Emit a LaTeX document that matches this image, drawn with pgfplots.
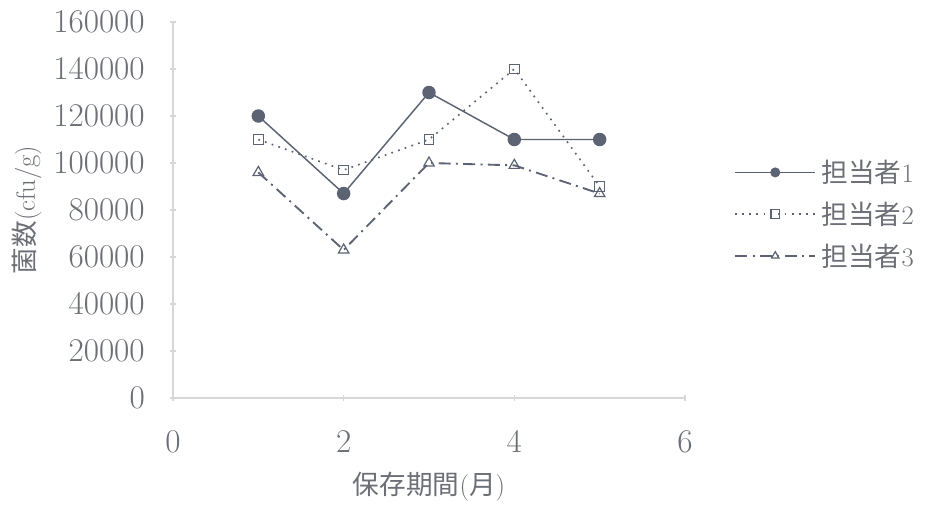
\documentclass[border=0pt]{standalone}
\usepackage{fontspec}
\usepackage{pgfplots}
\pgfplotsset{compat=1.18}
\newfontfamily\cjk{Noto Sans CJK JP}
\definecolor{ln}{RGB}{92,99,114}
\definecolor{txt}{RGB}{108,111,118}
\definecolor{axc}{RGB}{215,215,218}
\begin{document}
\begin{tikzpicture}
\begin{axis}[
  name=ax,
  scale only axis,
  width=384pt, height=282pt,
  xmin=0, xmax=6, ymin=0, ymax=160000,
  xtick={0,2,4,6}, ytick={0,20000,40000,60000,80000,100000,120000,140000,160000},
  scaled y ticks=false,
  y tick label style={/pgf/number format/.cd, fixed, 1000 sep={}, /tikz/.cd, anchor=east, inner sep=0pt, xshift=-19pt},
  xticklabel style={anchor=north, inner sep=0pt, yshift=-23pt},
  ticklabel style={font=\fontsize{23}{26}\selectfont, text=txt},
  axis x line=bottom, axis y line=left,
  axis line style={-, draw=axc, line width=0.8pt},
  tick style={draw=axc, line width=0.8pt},
  major tick length=4pt,
  every axis y label/.style={at={(axis description cs:-0.285,0.5)}, rotate=90, anchor=center, font=\fontsize{20}{24}\selectfont, text=txt},
  every axis x label/.style={at={(axis description cs:0.5,-0.237)}, anchor=center, font=\fontsize{20}{24}\selectfont, text=txt},
  ylabel={{\cjk 菌数}(cfu/g)},
  xlabel={{\cjk 保存期間}({\cjk 月})},
  legend style={draw=none, fill=none, at={(axis description cs:1.088,0.489)}, anchor=west,
    font=\fontsize{20}{24}\selectfont, text=txt, row sep=11pt,
    nodes={inner sep=1pt}},
  legend cell align=left,
  legend image code/.code={\draw[mark repeat=2,mark phase=2,#1,mark size=3.2pt] plot coordinates {(0pt,0pt) (30pt,0pt) (60pt,0pt)};},
  clip=false,
]
\addplot[ln, line width=1.1pt, mark=*, mark size=4.5pt, mark options={solid, fill=ln}]
  coordinates {(1,120000) (2,87000) (3,130000) (4,110000) (5,110000)};
\addlegendentry{\hspace{3pt}{\cjk 担当者}1}
\addplot[ln, line width=1.2pt, dash pattern=on 1.3pt off 4pt, mark=square, mark size=3.6pt, mark options={solid, fill=white, line width=0.9pt}]
  coordinates {(1,110000) (2,97000) (3,110000) (4,140000) (5,90000)};
\addlegendentry{\hspace{3pt}{\cjk 担当者}2}
\addplot[ln, line width=1.4pt, dash pattern=on 9pt off 4pt on 1.5pt off 4pt, mark=triangle, mark size=4.5pt, mark options={solid, fill=white, line width=0.9pt}]
  coordinates {(1,96000) (2,63000) (3,100000) (4,99000) (5,87000)};
\addlegendentry{\hspace{3pt}{\cjk 担当者}3}
\end{axis}
\pgfresetboundingbox
\path ([shift={(-129.75pt,-82.5pt)}]ax.south west) rectangle ++(695.25pt,381pt);
\end{tikzpicture}
\end{document}
